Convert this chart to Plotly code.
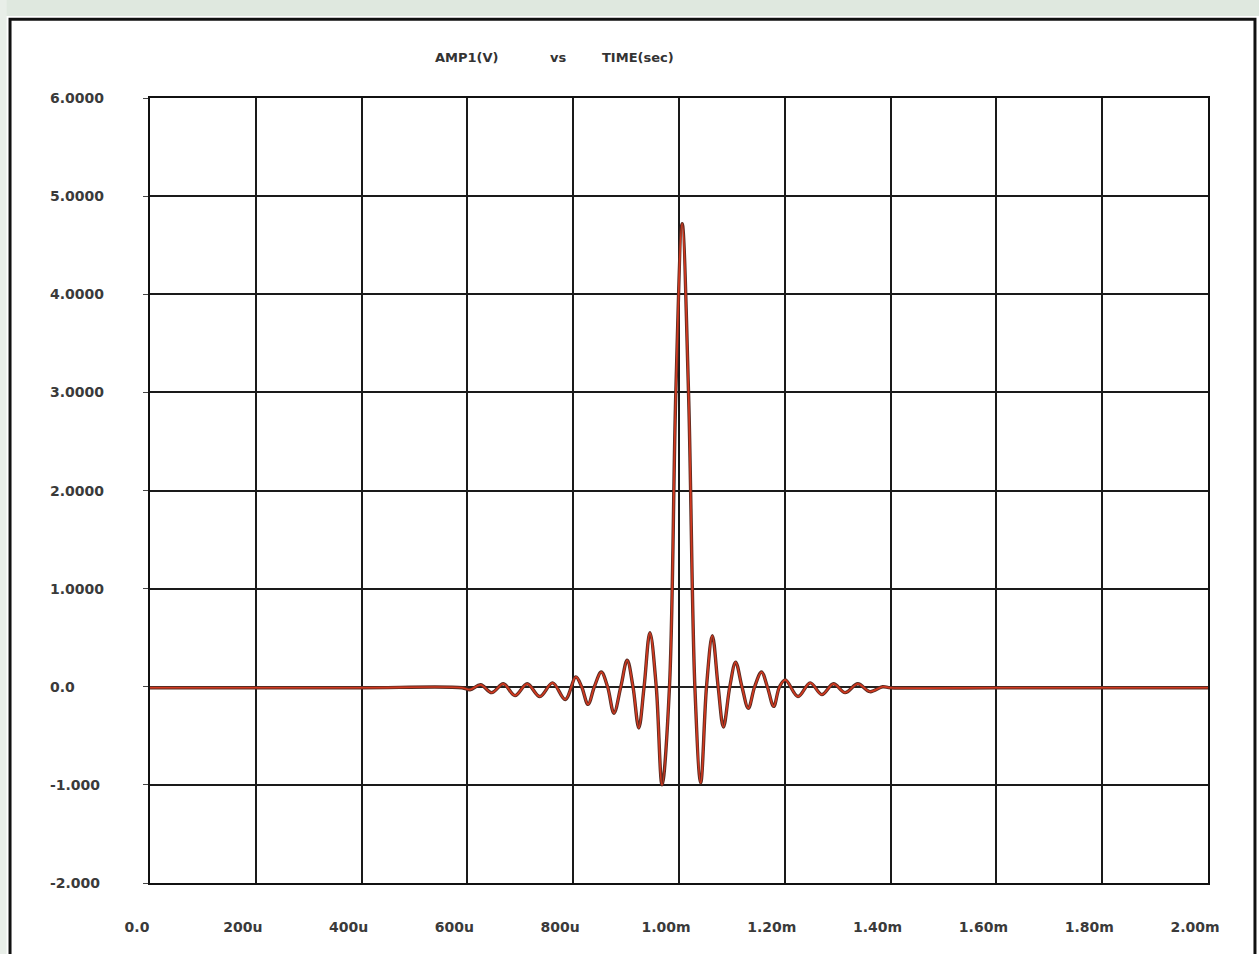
import plotly.graph_objects as go

# Time in microseconds, amplitude in volts
time_us = [0, 200, 400, 590,
           605, 625, 646, 668, 690, 713, 737, 761, 785, 805, 816, 828, 840, 853, 865,
           877, 890, 902, 913, 924, 934, 945, 957, 968, 982, 994, 1006, 1018, 1030,
           1041, 1052, 1063, 1074, 1084, 1096, 1107, 1119, 1131, 1143, 1156, 1167,
           1179, 1190, 1201, 1225, 1248, 1270, 1292, 1314, 1338, 1361, 1385, 1400,
           1600, 1800, 2000]
amp_v = [-0.01, -0.01, -0.01, -0.01,
         -0.03, 0.02, -0.06, 0.03, -0.09, 0.03, -0.10, 0.04, -0.13, 0.10, 0.0, -0.18, 0.0, 0.15, 0.0,
         -0.27, 0.0, 0.27, 0.0, -0.42, 0.0, 0.55, 0.0, -1.0, 0.0, 3.0, 4.72, 3.0, 0.0,
         -0.98, 0.0, 0.52, 0.0, -0.41, 0.0, 0.25, 0.0, -0.22, 0.0, 0.15, 0.0,
         -0.20, 0.0, 0.07, -0.10, 0.04, -0.08, 0.03, -0.06, 0.03, -0.05, 0.0, -0.01,
         -0.01, -0.01, -0.01]

x_tick_vals_us = [0, 200, 400, 600, 800, 1000, 1200, 1400, 1600, 1800, 2000]
x_tick_text = ["0.0", "200u", "400u", "600u", "800u", "1.00m", "1.20m", "1.40m", "1.60m", "1.80m", "2.00m"]
y_tick_vals = [6, 5, 4, 3, 2, 1, 0, -1, -2]
y_tick_text = ["6.0000", "5.0000", "4.0000", "3.0000", "2.0000", "1.0000", "0.0", "-1.000", "-2.000"]

time_s = [t * 1e-6 for t in time_us]
x_tick_vals = [t * 1e-6 for t in x_tick_vals_us]

fig = go.Figure()
fig.add_trace(go.Scatter(x=time_s, y=amp_v, mode="lines",
                         line=dict(color="#5a2c22", width=3.4, shape="spline", smoothing=1.0),
                         hoverinfo="skip", showlegend=False))
fig.add_trace(go.Scatter(x=time_s, y=amp_v, mode="lines",
                         line=dict(color="#d2381f", width=1.7, shape="spline", smoothing=1.0),
                         showlegend=False))

font_fam = "DejaVu Sans, Arial, sans-serif"
lab_font = dict(family=font_fam, size=14, color="#3a3a3a", weight="bold")

fig.update_xaxes(range=[0, 2e-3], tickvals=x_tick_vals, ticktext=x_tick_text,
                 showgrid=True, gridcolor="#1a1a1a", gridwidth=1.6,
                 showline=True, linecolor="#111111", linewidth=2, mirror=True,
                 zeroline=False, ticks="", ticklabelstandoff=30, ticklabelshift=-13,
                 tickfont=lab_font)
fig.update_yaxes(range=[-2, 6], tickvals=y_tick_vals, showticklabels=False,
                 showgrid=True, gridcolor="#1a1a1a", gridwidth=1.6,
                 showline=True, linecolor="#111111", linewidth=2, mirror=True,
                 zeroline=True, zerolinecolor="#222222", zerolinewidth=2.4,
                 ticks="outside", ticklen=5, tickcolor="#444444")

annotations = []
for v, txt in zip(y_tick_vals, y_tick_text):
    annotations.append(dict(x=-0.0964, y=v, xref="paper", yref="y", text=txt,
                            showarrow=False, xanchor="left", yanchor="middle",
                            font=lab_font))
for xp, txt in [(0.2996, "AMP1(V)"), (0.3856, "vs"), (0.4612, "TIME(sec)")]:
    annotations.append(dict(x=xp, y=1.051, xref="paper", yref="paper", text=txt,
                            showarrow=False, xanchor="center", yanchor="middle",
                            font=dict(family=font_fam, size=13, color="#333333", weight="bold")))

shapes = [
    # paper strip above the scanned frame
    dict(type="rect", xref="paper", yref="paper", x0=-0.2, x1=1.1, y0=1.1045, y1=1.13,
         fillcolor="#dfe8df", line=dict(width=0), layer="below"),
    dict(type="rect", xref="paper", yref="paper", x0=-0.2, x1=-0.1355, y0=-0.12, y1=1.13,
         fillcolor="#e8eee8", line=dict(width=0), layer="below"),
    # outer frame of the scanned printout
    dict(type="rect", xref="paper", yref="paper", x0=-0.1323, x1=1.0444, y0=-0.12, y1=1.1003,
         line=dict(color="#111111", width=3), fillcolor="rgba(0,0,0,0)"),
]

fig.update_layout(width=1259, height=954,
                  margin=dict(l=150, r=51, t=98, b=71),
                  paper_bgcolor="white", plot_bgcolor="white",
                  annotations=annotations, shapes=shapes,
                  font=dict(family=font_fam))

fig.write_html("out.html", config={"displayModeBar": False},
               post_script="document.body.style.margin='0';document.body.style.overflow='hidden';")
